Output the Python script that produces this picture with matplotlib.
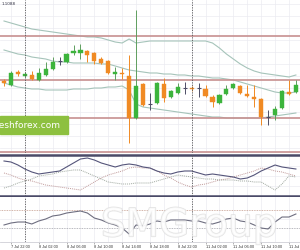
import numpy as np
import matplotlib
matplotlib.use("Agg")
import matplotlib.pyplot as plt
from matplotlib.patches import Rectangle
import matplotlib.patheffects as pe

# H1 candles, 7 Jul 21:00 .. 11 Jul 15:00
opens = [1.1039, 1.1035, 1.1048, 1.1044, 1.1045, 1.1040, 1.1045, 1.1051, 1.1059, 1.1058,
         1.1067, 1.1067, 1.1069, 1.1067, 1.1061, 1.1059, 1.1046, 1.1047, 1.1044, 1.1002,
         1.1036, 1.1016, 1.1017, 1.1036, 1.1023, 1.1027, 1.1032, 1.1032, 1.1032, 1.1031,
         1.1023, 1.1017, 1.1026, 1.1032, 1.1034, 1.1026, 1.1023, 1.1021, 1.1003, 1.1005,
         1.1012, 1.1028, 1.1028]
highs = [1.1041, 1.1049, 1.1050, 1.1048, 1.1049, 1.1052, 1.1058, 1.1063, 1.1063, 1.1067,
         1.1075, 1.1076, 1.1070, 1.1068, 1.1063, 1.1060, 1.1053, 1.1052, 1.1065, 1.1110,
         1.1037, 1.1027, 1.1038, 1.1042, 1.1030, 1.1037, 1.1038, 1.1034, 1.1037, 1.1035,
         1.1025, 1.1026, 1.1035, 1.1037, 1.1035, 1.1035, 1.1035, 1.1022, 1.1010, 1.1014,
         1.1030, 1.1040, 1.1040]
lows = [1.1034, 1.1034, 1.1044, 1.1043, 1.1040, 1.1039, 1.1044, 1.1050, 1.1055, 1.1057,
        1.1065, 1.1061, 1.1058, 1.1056, 1.1056, 1.1046, 1.1040, 1.1041, 1.0977, 1.1001,
        1.1014, 1.1010, 1.1016, 1.1018, 1.1022, 1.1026, 1.1026, 1.1029, 1.1023, 1.1023,
        1.1013, 1.1016, 1.1025, 1.1031, 1.1026, 1.1023, 1.1013, 1.0995, 1.0995, 1.1000,
        1.1011, 1.1025, 1.1027]
closes = [1.1037, 1.1047, 1.1046, 1.1046, 1.1041, 1.1047, 1.1051, 1.1058, 1.1059, 1.1066,
          1.1069, 1.1070, 1.1065, 1.1059, 1.1057, 1.1047, 1.1048, 1.1046, 1.1002, 1.1034,
          1.1015, 1.1016, 1.1037, 1.1022, 1.1029, 1.1033, 1.1032, 1.1031, 1.1032, 1.1024,
          1.1018, 1.1025, 1.1031, 1.1036, 1.1027, 1.1024, 1.1021, 1.1003, 1.1003, 1.1011,
          1.1029, 1.1026, 1.1035]

# bollinger bands
bb_upper = [1.1099, 1.1097, 1.1095, 1.1093, 1.1091, 1.1090, 1.1089, 1.1088, 1.1087, 1.1086,
            1.1085, 1.1084, 1.1083, 1.1083, 1.1082, 1.1080, 1.1078, 1.1077, 1.1081, 1.1077,
            1.1078, 1.1079, 1.1079, 1.1079, 1.1079, 1.1079, 1.1079, 1.1079, 1.1079, 1.1079,
            1.1077, 1.1072, 1.1066, 1.1061, 1.1056, 1.1052, 1.1049, 1.1047, 1.1046, 1.1045,
            1.1044, 1.1043, 1.1045]
bb_mid = [1.1070, 1.1068, 1.1066, 1.1065, 1.1063, 1.1062, 1.1061, 1.1059, 1.1058, 1.1058,
          1.1057, 1.1057, 1.1057, 1.1057, 1.1056, 1.1056, 1.1054, 1.1052, 1.1050, 1.1049,
          1.1048, 1.1047, 1.1047, 1.1046, 1.1046, 1.1045, 1.1045, 1.1044, 1.1044, 1.1043,
          1.1042, 1.1042, 1.1041, 1.1040, 1.1038, 1.1036, 1.1034, 1.1032, 1.1030, 1.1028,
          1.1027, 1.1027, 1.1028]
bb_lower = [1.1037, 1.1035, 1.1033, 1.1032, 1.1031, 1.1031, 1.1030, 1.1030, 1.1030, 1.1030,
            1.1031, 1.1031, 1.1031, 1.1032, 1.1032, 1.1033, 1.1033, 1.1034, 1.1030, 1.1016,
            1.1013, 1.1012, 1.1011, 1.1010, 1.1009, 1.1008, 1.1007, 1.1006, 1.1005, 1.1004,
            1.1003, 1.1003, 1.1002, 1.1002, 1.1002, 1.1002, 1.1002, 1.1002, 1.1003, 1.1004,
            1.1005, 1.1006, 1.1007]
levels = [1.1084, 1.1040, 1.1002, 1.0968]

# ADX panel
adx = [42.0, 40.8, 37.2, 32.4, 28.8, 26.4, 27.6, 28.8, 30.0, 34.8, 39.6, 44.4, 45.6, 43.2,
       39.6, 37.2, 34.8, 37.2, 38.4, 37.2, 34.8, 33.6, 30.0, 27.6, 26.4, 28.8, 30.0, 30.0,
       27.6, 25.2, 26.4, 25.2, 24.0, 22.8, 20.4, 21.6, 25.2, 30.0, 33.6, 37.2, 34.8, 33.6, 32.4]
di_minus = [27.6, 25.2, 21.6, 19.2, 18.0, 15.6, 13.2, 12.0, 10.8, 9.6, 8.4, 7.2, 12.0, 16.8,
            21.6, 25.2, 27.6, 30.0, 33.6, 34.8, 33.6, 33.6, 30.0, 25.2, 21.6, 16.8, 13.2, 10.8,
            13.2, 14.4, 16.8, 19.2, 20.4, 22.8, 25.2, 27.6, 30.0, 33.6, 32.4, 30.0, 28.8, 26.4, 24.0]
di_plus = [9.6, 12.0, 15.6, 18.0, 20.4, 24.0, 25.2, 26.4, 28.8, 30.0, 31.2, 31.2, 27.6, 24.0,
           20.4, 16.8, 15.6, 14.4, 14.4, 15.6, 15.6, 15.6, 18.0, 20.4, 22.8, 25.2, 24.0, 22.8,
           21.6, 20.4, 20.4, 19.2, 19.2, 19.2, 18.0, 18.0, 16.8, 16.8, 12.0, 7.2, 14.4, 24.0, 22.8]

# RSI panel
rsi = [36.7, 41.1, 43.3, 43.3, 38.9, 45.6, 50.0, 56.7, 58.9, 63.3, 65.6, 67.8, 63.3, 52.2,
       47.8, 41.1, 36.7, 30.0, 16.7, 36.7, 34.4, 38.9, 45.6, 43.3, 47.8, 47.8, 47.8, 45.6,
       45.6, 41.1, 38.9, 43.3, 50.0, 52.2, 45.6, 43.3, 36.7, 30.0, 27.8, 43.3, 54.4, 54.4, 61.1]
rsi_levels = [70, 30]

label_bars = [1, 5, 9, 13, 17, 21, 25, 29, 33, 37, 41]
time_labels = ["7 Jul 22:00", "8 Jul 02:00", "8 Jul 06:00", "8 Jul 10:00", "8 Jul 14:00",
               "8 Jul 18:00", "8 Jul 22:00", "11 Jul 02:00", "11 Jul 06:00", "11 Jul 10:00",
               "11 Jul 14:00"]
day_breaks = [3, 27]

GREEN = "#3cb43c"
GREEN_WICK = "#5f9f5f"
ORANGE = "#f08a24"
DOJI = "#4d4d66"
BAND = "#a6c4ba"
LEVEL = "#c79090"
FRAME = "#4a4a68"
GRID = "#ebebf1"

fig = plt.figure(figsize=(3, 2.5), dpi=100)
ax = fig.add_axes([0, 0.388, 1, 0.612])
ax2 = fig.add_axes([0, 0.216, 1, 0.164])
ax3 = fig.add_axes([0, 0.034, 1, 0.18])

x = np.arange(len(opens))
xlim = (-0.576, 42.59)

# candles
for i in x:
    o, h, l, c = opens[i], highs[i], lows[i], closes[i]
    if c > o:
        col, wick = GREEN, GREEN_WICK
    elif c < o:
        col, wick = ORANGE, ORANGE
    else:
        col, wick = DOJI, DOJI
    ax.vlines(i, l, h, color=wick, lw=0.7, zorder=3)
    if c == o:
        ax.hlines(o, i - 0.3, i + 0.3, color=col, lw=0.8, zorder=4)
    else:
        ax.bar(i, abs(c - o), bottom=min(o, c), width=0.6, color=col,
               edgecolor=col, lw=0.3, zorder=4)

ax.plot(x, bb_upper, color=BAND, lw=0.8, zorder=2)
ax.plot(x, bb_mid, color=BAND, lw=0.8, zorder=2)
ax.plot(x, bb_lower, color=BAND, lw=0.8, zorder=2)
for lv in levels:
    ax.axhline(lv, color=LEVEL, lw=1.2, zorder=2)

ax.set_xlim(*xlim)
ax.set_ylim(1.0967, 1.1120)
ax.set_xticks(np.arange(1, 43, 2))
ax.set_yticks(np.arange(1.0972, 1.1120, 0.0012))

ax2.plot(x, adx, color="#55557a", lw=0.8, zorder=3)
ax2.plot(x, di_minus, color="#c09a9a", lw=0.7, ls=(0, (1, 1)), zorder=2)
ax2.plot(x, di_plus, color="#9fa89f", lw=0.7, ls=(0, (1, 1)), zorder=2)
ax2.set_xlim(*xlim)
ax2.set_ylim(0, 49.2)
ax2.set_xticks(np.arange(1, 43, 2))
ax2.set_yticks([12, 24, 36])

ax3.plot(x, rsi, color="#6e6e80", lw=0.8, zorder=3)
ax3.axhline(rsi_levels[0], color="#c49a8a", lw=0.6, ls=(0, (1, 1)), zorder=2)
ax3.axhline(rsi_levels[1], color="#a0a0a8", lw=0.6, ls=(0, (1, 1)), zorder=2)
ax3.set_xlim(*xlim)
ax3.set_ylim(0, 100)
ax3.set_xticks(label_bars)
ax3.set_xticklabels(time_labels, ha="left", fontsize=2.8, color="#333333",
                    family="Liberation Sans")
ax3.set_xticks(np.arange(1, 43, 2), minor=True)
ax3.set_yticks([50])

for a in (ax, ax2, ax3):
    a.grid(True, which="both", color=GRID, lw=0.5, zorder=0)
    a.tick_params(left=False, labelleft=False, bottom=False, labelbottom=False,
                  which="both")
    for b in day_breaks:
        a.axvline(b, color="#555555", lw=0.6, ls=(0, (1.5, 1.5)), zorder=5)
    for s in a.spines.values():
        s.set_visible(False)

ax3.tick_params(axis="x", which="major", bottom=True, labelbottom=True,
                length=1.5, width=0.4, color="#777777", pad=1)

for side in ("top", "bottom"):
    ax2.spines[side].set_visible(True)
    ax2.spines[side].set_color(FRAME)
    ax2.spines[side].set_linewidth(1.8)
ax3.spines["bottom"].set_visible(True)
ax3.spines["bottom"].set_color("#cfcfd6")
ax3.spines["bottom"].set_linewidth(0.6)

# watermarks
fig.patches.append(Rectangle((0, 1 - 134 / 250), 68 / 300, 18 / 250,
                             transform=fig.transFigure, color="#8dc03f", zorder=6))
fig.text(-7 / 300, 1 - 126 / 250, "freshforex.com", color="white", fontsize=6.5,
         va="center", ha="left", zorder=7)
fig.text(0.63, 0.055, "SMGroup", fontsize=28, color="white", alpha=0.75,
         ha="center", va="baseline", zorder=8,
         path_effects=[pe.withStroke(linewidth=1.2, foreground="#dcdcdc")])
fig.text(2 / 300, 1 - 4 / 250, "1.1088", fontsize=3, color="#333344",
         va="center", ha="left")

fig.savefig("out.png", dpi=100)
